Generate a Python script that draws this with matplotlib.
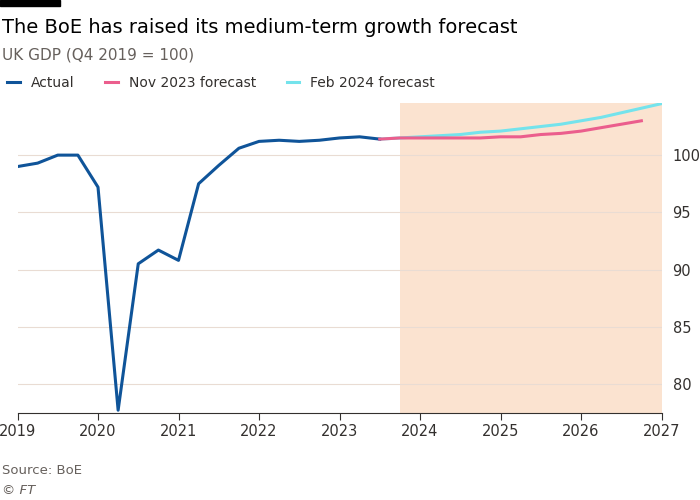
import numpy as np
import matplotlib.pyplot as plt

actual_x = [2019.0, 2019.25, 2019.5, 2019.75, 2020.0, 2020.25, 2020.5, 2020.75,
            2021.0, 2021.25, 2021.5, 2021.75, 2022.0, 2022.25, 2022.5, 2022.75,
            2023.0, 2023.25, 2023.5]
actual_y = [99.0, 99.3, 100.0, 100.0, 97.2, 77.7, 90.5, 91.7,
            90.8, 97.5, 99.1, 100.6, 101.2, 101.3, 101.2, 101.3,
            101.5, 101.6, 101.4]
nov_x = [2023.5, 2023.75, 2024.0, 2024.25, 2024.5, 2024.75, 2025.0, 2025.25,
         2025.5, 2025.75, 2026.0, 2026.25, 2026.5, 2026.75]
nov_y = [101.4, 101.5, 101.5, 101.5, 101.5, 101.5, 101.6, 101.6,
         101.8, 101.9, 102.1, 102.4, 102.7, 103.0]
feb_x = [2023.5, 2023.75, 2024.0, 2024.25, 2024.5, 2024.75, 2025.0, 2025.25,
         2025.5, 2025.75, 2026.0, 2026.25, 2026.5, 2026.75, 2027.0]
feb_y = [101.4, 101.5, 101.6, 101.7, 101.8, 102.0, 102.1, 102.3,
         102.5, 102.7, 103.0, 103.3, 103.7, 104.1, 104.5]
shade_start, shade_end = 2023.75, 2027.0

fig = plt.figure(figsize=(7, 5), dpi=100)
ax = fig.add_axes([0.025, 0.175, 0.92, 0.62])

ax.axvspan(shade_start, shade_end, color='#fbe3d0', zorder=0, lw=0)
ax.plot(actual_x, actual_y, color='#0f5499', lw=2.2, label='Actual', zorder=3)
ax.plot(nov_x, nov_y, color='#eb5e8d', lw=2.2, label='Nov 2023 forecast', zorder=3)
ax.plot(feb_x, feb_y, color='#74e3ec', lw=2.2, label='Feb 2024 forecast', zorder=2)

ax.set_xlim(2019, 2027)
ax.set_ylim(77.5, 104.6)
ax.set_xticks(range(2019, 2028))
ax.set_yticks([80, 85, 90, 95, 100])
ax.yaxis.tick_right()
ax.tick_params(axis='y', length=0, labelsize=10.5, colors='#33302e', pad=8)
ax.tick_params(axis='x', length=5, labelsize=10.5, colors='#33302e', color='#33302e')
ax.grid(axis='y', color='#e9dcd3', lw=0.8)
for s in ['top', 'right', 'left']:
    ax.spines[s].set_visible(False)
ax.spines['bottom'].set_color('#33302e')

ax.legend(loc='lower left', bbox_to_anchor=(-0.035, 1.0), ncol=3, frameon=False,
          fontsize=10, handlelength=0.9, columnspacing=2.2, labelcolor='#33302e')

fig.patches.append(plt.Rectangle((0, 0.988), 0.085, 0.012, transform=fig.transFigure,
                                 color='#000000'))
fig.text(0.003, 0.945, 'The BoE has raised its medium-term growth forecast',
         fontsize=14, color='#000000', va='center')
fig.text(0.003, 0.89, 'UK GDP (Q4 2019 = 100)', fontsize=11, color='#66605c', va='center')
fig.text(0.003, 0.06, 'Source: BoE', fontsize=9.5, color='#66605c', va='center')
fig.text(0.003, 0.02, '© FT', fontsize=9.5, color='#66605c', va='center', style='italic')

fig.savefig('out.png', facecolor='white')
